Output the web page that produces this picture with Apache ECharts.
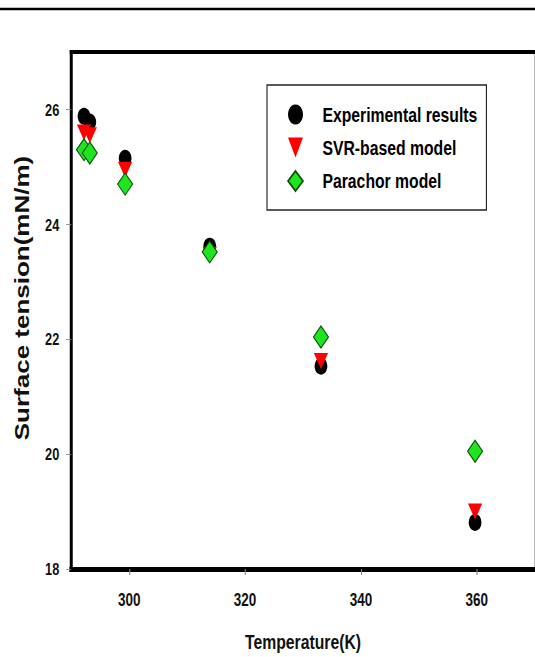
<!DOCTYPE html>
<html>
<head>
<meta charset="utf-8">
<script src="https://cdn.jsdelivr.net/npm/echarts@6/dist/echarts.min.js"></script>
<style>
html, body { margin: 0; padding: 0; background: #fff; overflow: hidden; width: 535px; height: 657px; }
/* the reference picture is horizontally compressed; reproduce that by drawing wider and scaling x */
#chart { width: 714px; height: 657px; transform: scaleX(0.75); transform-origin: 0 0; }
</style>
</head>
<body>
<div id="chart"></div>
<script>
const temperatures   = [292.2, 293.2, 299.3, 313.9, 333.1, 359.7];
const experimental   = [25.88, 25.78, 25.15, 23.62, 21.53, 18.81];
const svrModel       = [25.60, 25.55, 24.95, 23.47, 21.62, 19.00];
const parachorModel  = [25.30, 25.24, 24.70, 23.52, 22.04, 20.05];
const xTicks = [300, 320, 340, 360];
const yTicks = [18, 20, 22, 24, 26];
const seriesNames = ['Experimental results', 'SVR-based model', 'Parachor model'];
const xTitle = 'Temperature(K)';
const yTitle = 'Surface tension(mN/m)';

const FONT = '"Liberation Sans", Arial, Helvetica, sans-serif';
const pairs = vals => temperatures.map((t, i) => [t, vals[i]]);
const TRI_DOWN = 'path://M0,0L20,0L10,17Z';

const chart = echarts.init(document.getElementById('chart'), null, { renderer: 'svg' });
chart.setOption({
  animation: false,
  backgroundColor: '#fff',
  grid: { left: 95, right: 1, top: 52, bottom: 87, containLabel: false },
  xAxis: [
    {
      type: 'value', min: 290, max: 370, position: 'bottom',
      axisLine: { onZero: false, lineStyle: { color: '#000', width: 5, cap: 'square' } },
      axisTick: { customValues: xTicks, inside: false, length: 6, lineStyle: { color: '#888', width: 1.5 } },
      axisLabel: { customValues: xTicks, margin: 22, fontFamily: FONT, fontWeight: 'bold', fontSize: 18, color: '#111' },
      splitLine: { show: false },
      name: xTitle, nameLocation: 'middle', nameGap: 62,
      nameTextStyle: { fontFamily: FONT, fontWeight: 'bold', fontSize: 21, color: '#111' }
    },
    {
      type: 'value', min: 290, max: 370, position: 'top',
      axisLine: { onZero: false, lineStyle: { color: '#000', width: 4, cap: 'square' } },
      axisTick: { show: false }, axisLabel: { show: false }, splitLine: { show: false }
    }
  ],
  yAxis: [
    {
      type: 'value', min: 18, max: 27, position: 'left',
      axisLine: { onZero: false, lineStyle: { color: '#000', width: 4, cap: 'square' } },
      axisTick: { customValues: yTicks, inside: false, length: 7, lineStyle: { color: '#888', width: 1 } },
      axisLabel: { customValues: yTicks, margin: 16, fontFamily: FONT, fontWeight: 'bold', fontSize: 17, color: '#111' },
      splitLine: { show: false }
    },
    {
      type: 'value', min: 18, max: 27, position: 'right',
      axisLine: { onZero: false, lineStyle: { color: '#aaa', width: 1.5 } },
      axisTick: { show: false }, axisLabel: { show: false }, splitLine: { show: false }
    }
  ],
  legend: {
    orient: 'vertical', left: 356, top: 85,
    padding: [19, 12, 18, 27],
    itemWidth: 20, itemHeight: 20, itemGap: 12,
    borderColor: '#222', borderWidth: 1.5,
    textStyle: { fontFamily: FONT, fontWeight: 'bold', fontSize: 21, lineHeight: 20, color: '#000', padding: [0, 0, 0, 21] },
    data: [
      { name: seriesNames[0] },
      { name: seriesNames[1], icon: 'path://M0,0L20,0L10,20Z' },
      { name: seriesNames[2] }
    ]
  },
  graphic: [
    { type: 'line', silent: true, shape: { x1: 0, y1: 9, x2: 714, y2: 9 }, style: { stroke: '#000', lineWidth: 2.5 } },
    { type: 'text', silent: true, x: 30, y: 298, rotation: Math.PI / 2,
      style: { text: yTitle, font: 'bold 26px ' + FONT, fill: '#111', align: 'center', verticalAlign: 'middle' } }
  ],
  series: [
    {
      name: seriesNames[0], type: 'scatter', z: 2,
      data: pairs(experimental),
      symbol: 'circle', symbolSize: 17,
      itemStyle: { color: '#000', opacity: 1 }
    },
    {
      name: seriesNames[1], type: 'scatter', z: 3,
      data: pairs(svrModel),
      symbol: TRI_DOWN, symbolSize: [19, 16],
      itemStyle: { color: '#ff0000', opacity: 1 }
    },
    {
      name: seriesNames[2], type: 'scatter', z: 4,
      data: pairs(parachorModel),
      symbol: 'diamond', symbolSize: [20, 22],
      itemStyle: { color: '#1ee61e', borderColor: '#0b4d0b', borderWidth: 1.3, opacity: 1 }
    }
  ]
});
</script>
</body>
</html>
